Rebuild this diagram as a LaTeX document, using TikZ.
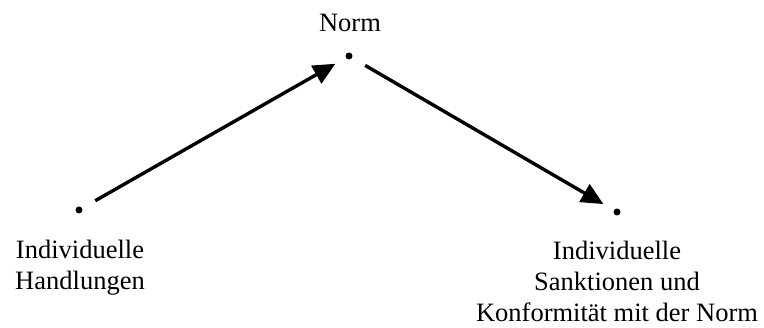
\documentclass[tikz,border=0pt]{standalone}
\usepackage{fontspec}
\setmainfont{Liberation Serif}
\usetikzlibrary{arrows.meta,positioning}
\tikzset{
 punkt/.style={circle,fill=black,inner sep=0pt,minimum size=7pt},
 beschr/.style={inner sep=0pt,align=center,font=\fontsize{26.5}{31}\selectfont},
 pfeil/.style={line width=3.4pt,-{Triangle[length=22pt,width=20pt]},shorten <=15pt,shorten >=12pt}
}
\begin{document}
\begin{tikzpicture}[x=1pt,y=-1pt]
 \useasboundingbox (0,0) rectangle (764,328);
 % die drei Punkte
 \node[punkt] (norm) at (349,56) {};
 \node[punkt] (handl) at (79,210) {};
 \node[punkt] (sankt) at (617,212) {};
 % Beschriftungen
 \node[beschr,anchor=base] (normtxt) at (350,32) {Norm};
 \node[beschr,anchor=north] (handltxt) at (80,240) {Individuelle\\Handlungen};
 \node[beschr,anchor=north] (sankttxt) at (617,241) {Individuelle\\Sanktionen und\\Konformit\"at mit der Norm};
 % Pfeile
 \draw[pfeil] (handl) -- (norm);
 \draw[pfeil] (norm) -- (sankt);
\end{tikzpicture}
\end{document}
